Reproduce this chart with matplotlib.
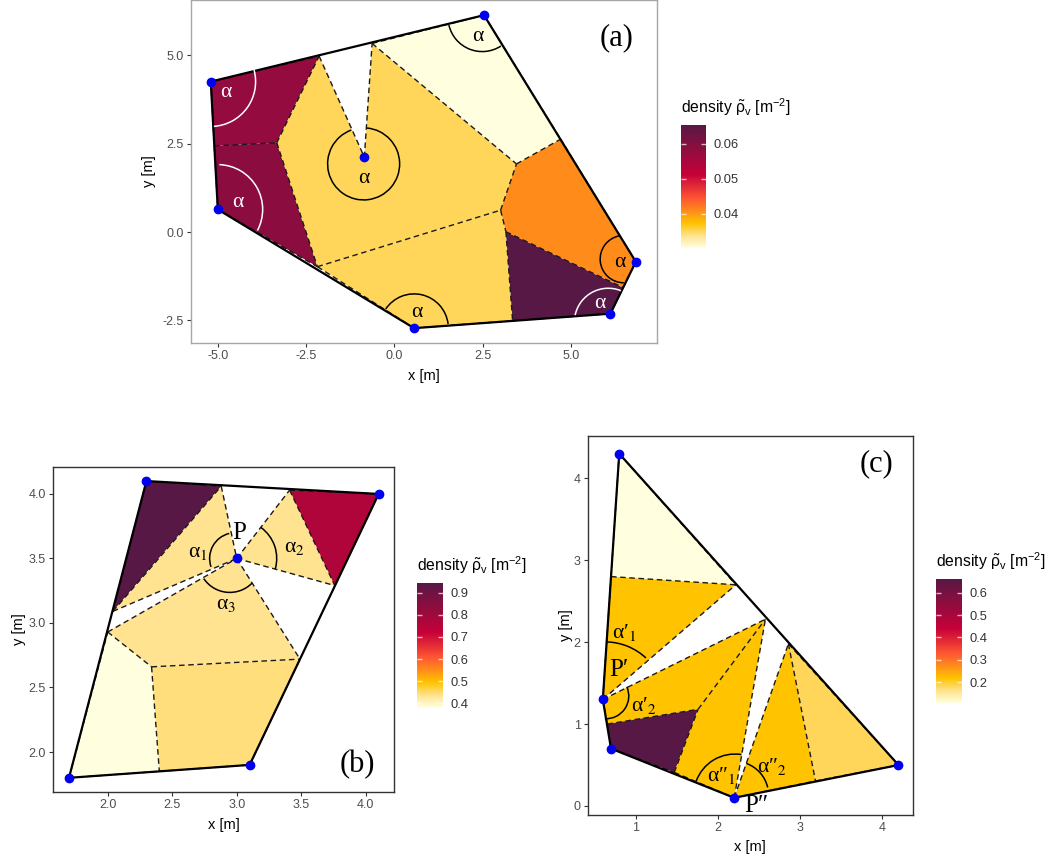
import matplotlib
matplotlib.use('Agg')
import matplotlib.pyplot as plt
from matplotlib.colors import LinearSegmentedColormap, Normalize
from matplotlib.cm import ScalarMappable
from matplotlib.patches import Polygon, Arc

plt.rcParams['font.family'] = ['Liberation Sans', 'DejaVu Sans']
plt.rcParams['axes.unicode_minus'] = False
plt.rcParams['mathtext.fontset'] = 'custom'
plt.rcParams['mathtext.rm'] = 'Liberation Sans'
plt.rcParams['mathtext.it'] = 'Liberation Sans'
plt.rcParams['mathtext.bf'] = 'Liberation Sans'

W, H = 1050, 860
cmap = LinearSegmentedColormap.from_list(
    'density', [(0, '#FFFFE0'), (0.1, '#FFE28E'), (0.2, '#FFC300'), (0.4, '#FF5733'),
                (0.6, '#C70039'), (0.8, '#900C3F'), (1, '#581845')])

# panel a
a_hull = [(-5.2, 4.26), (-5.0, 0.64), (0.56, -2.72), (6.12, -2.31), (6.84, -0.84), (2.54, 6.14)]
a_points = a_hull + [(-0.85, 2.12)]
a_cells = [
    [(-5.2, 4.26), (-2.13, 4.98), (-3.33, 2.53), (-5.1, 2.44)],
    [(-5.1, 2.44), (-3.33, 2.53), (-2.18, -0.98), (-5.0, 0.64)],
    [(-2.13, 4.98), (-0.85, 2.12), (-0.63, 5.34), (3.46, 1.93), (3.01, 0.62), (-2.18, -0.98), (-3.33, 2.53)],
    [(-2.18, -0.98), (3.01, 0.62), (3.16, 0.01), (3.35, -2.51), (0.56, -2.72)],
    [(3.16, 0.01), (6.48, -1.57), (6.12, -2.31), (3.35, -2.51)],
    [(3.46, 1.93), (4.71, 2.63), (6.84, -0.84), (6.48, -1.57), (3.16, 0.01), (3.01, 0.62)],
    [(-0.63, 5.34), (2.54, 6.14), (4.71, 2.63), (3.46, 1.93)],
]
a_density = [0.0578, 0.0590, 0.0352, 0.0352, 0.0653, 0.0409, 0.0303]
a_arcs = [
    (-5.2, 4.26, 1.27, -86, 15, 'white'),
    (-5.0, 0.64, 1.27, -28, 88, 'white'),
    (-0.87, 1.93, 1.02, 110, 445, 'black'),
    (0.56, -2.72, 0.97, 7, 146, 'black'),
    (6.06, -2.55, 0.96, 68, 168, 'white'),
    (6.5, -0.765, 0.67, 101, 270, 'black'),
    (2.49, 6.08, 0.97, 193, 303, 'black'),
]
a_labels = [
    (-4.77, 3.94, 'α', 'white'),
    (-4.43, 0.85, 'α', 'white'),
    (-0.86, 1.53, 'α', 'black'),
    (0.64, -2.27, 'α', 'black'),
    (2.37, 5.55, 'α', 'black'),
    (6.39, -0.85, 'α', 'black'),
    (5.82, -2.01, 'α', 'white'),
]
a_xticks = [-5.0, -2.5, 0.0, 2.5, 5.0]
a_yticks = [-2.5, 0.0, 2.5, 5.0]

# panel b
b_hull = [(1.7, 1.8), (3.1, 1.9), (4.1, 4.0), (2.3, 4.1)]
b_points = b_hull + [(3.0, 3.5)]
b_cells = [
    [(2.3, 4.1), (2.88, 4.06), (2.04, 3.09)],
    [(2.88, 4.06), (3.0, 3.5), (2.04, 3.09)],
    [(3.41, 4.03), (3.76, 3.29), (3.0, 3.5)],
    [(3.41, 4.03), (4.1, 4.0), (3.76, 3.29)],
    [(3.0, 3.5), (3.49, 2.72), (2.34, 2.66), (2.0, 2.93)],
    [(2.34, 2.66), (3.49, 2.72), (3.1, 1.9), (2.4, 1.85)],
    [(2.0, 2.93), (2.34, 2.66), (2.4, 1.85), (1.7, 1.8)],
]
b_density = [0.945, 0.437, 0.437, 0.766, 0.437, 0.445, 0.38]
b_arcs = [
    (2.99, 3.5, 0.2, 104, 199, 'black'),
    (3.013, 3.5, 0.297, -16, 54, 'black'),
    (2.946, 3.48, 0.243, 214, 315, 'black'),
]
b_labels = [
    (2.695, 3.545, 'α$_{1}$', 'black'),
    (3.45, 3.586, 'α$_{2}$', 'black'),
    (2.915, 3.14, 'α$_{3}$', 'black'),
    (3.02, 3.70, 'P', 'black'),
]
b_xticks = [2.0, 2.5, 3.0, 3.5, 4.0]
b_yticks = [2.0, 2.5, 3.0, 3.5, 4.0]

# panel c
c_hull = [(0.8, 4.3), (0.6, 1.3), (0.7, 0.7), (2.2, 0.1), (4.2, 0.5)]
c_points = c_hull
c_cells = [
    [(0.8, 4.3), (2.22, 2.70), (0.70, 2.80)],
    [(0.70, 2.80), (2.22, 2.70), (0.6, 1.3)],
    [(0.6, 1.3), (2.58, 2.28), (1.76, 1.18), (0.655, 1.0)],
    [(0.655, 1.0), (1.76, 1.18), (1.47, 0.41), (0.7, 0.7)],
    [(1.47, 0.41), (1.76, 1.18), (2.58, 2.28), (2.2, 0.1)],
    [(2.2, 0.1), (2.86, 1.98), (3.19, 0.305)],
    [(2.86, 1.98), (4.2, 0.5), (3.19, 0.305)],
]
c_density = [0.106, 0.217, 0.217, 0.661, 0.217, 0.217, 0.184]
c_arcs = [
    (0.627, 1.273, 0.73, 47, 88, 'black'),
    (0.639, 1.342, 0.277, -93, 24, 'black'),
    (2.208, 0.134, 0.5, 81, 161, 'black'),
    (2.208, 0.134, 0.41, 13, 70, 'black'),
]
c_labels = [
    (0.862, 2.115, 'α′$_{1}$', 'black'),
    (1.093, 1.225, 'α′$_{2}$', 'black'),
    (0.793, 1.66, 'P′', 'black'),
    (2.046, 0.378, 'α″$_{1}$', 'black'),
    (2.654, 0.48, 'α″$_{2}$', 'black'),
    (2.47, 0.0, 'P″', 'black'),
]
c_xticks = [1, 2, 3, 4]
c_yticks = [0, 1, 2, 3, 4]

fig = plt.figure(figsize=(W / 100, H / 100), dpi=100)


def box(x0, y0, x1, y1):
    return [x0 / W, 1 - y1 / H, (x1 - x0) / W, (y1 - y0) / H]


def panel(rect, xlim, ylim, xticks, yticks, fmt, hull, cells, density, dmin, dmax,
          points, arcs, labels, tag, tag_xy, edge, xpad, ypad):
    ax = fig.add_axes(box(*rect))
    norm = Normalize(dmin, dmax)
    edges = set()
    for cell, d in zip(cells, density):
        ax.add_patch(Polygon(cell, closed=True, facecolor=cmap(norm(d)), edgecolor='none', zorder=2))
        for p, q in zip(cell, cell[1:] + cell[:1]):
            edges.add(tuple(sorted((p, q))))
    # each shared edge only once, otherwise the dashes fill each other in
    for p, q in sorted(edges):
        ax.plot([p[0], q[0]], [p[1], q[1]], color='#1A1A1A', linewidth=1.0,
                linestyle=(0, (4, 2.6)), zorder=2.5)
    ax.add_patch(Polygon(hull, closed=True, fill=False, edgecolor='black', linewidth=1.6, zorder=3))
    for x, y, r, t1, t2, col in arcs:
        ax.add_patch(Arc((x, y), 2 * r, 2 * r, theta1=t1, theta2=t2, color=col, linewidth=1.1, zorder=4))
    for x, y, s, col in labels:
        size = 18 if s.startswith('P') else 15.5
        ax.text(x, y, s, color=col, fontsize=size, ha='center', va='center',
                family='Liberation Serif', math_fontfamily='stix', zorder=5)
    ax.scatter([p[0] for p in points], [p[1] for p in points], s=36, color='#0000F0', zorder=6, clip_on=False)
    ax.text(tag_xy[0], tag_xy[1], tag, fontsize=22, family='Liberation Serif', ha='center', va='center')
    ax.set_xlim(xlim)
    ax.set_ylim(ylim)
    ax.set_xticks(xticks)
    ax.set_yticks(yticks)
    ax.set_xticklabels([fmt % t for t in xticks])
    ax.set_yticklabels([fmt % t for t in yticks])
    ax.tick_params(labelsize=9, labelcolor='#4D4D4D', color='#333333', length=3, width=0.8, pad=2)
    ax.set_xlabel('x [m]', fontsize=10.5, labelpad=xpad)
    ax.set_ylabel('y [m]', fontsize=10.5, labelpad=ypad)
    for s in ax.spines.values():
        s.set_edgecolor(edge)
        s.set_linewidth(1.0)
    return ax


def legend(rect, dmin, dmax, ticks, title_xy):
    cax = fig.add_axes(box(*rect))
    cb = fig.colorbar(ScalarMappable(Normalize(dmin, dmax), cmap), cax=cax)
    cb.outline.set_visible(False)
    cb.set_ticks(ticks)
    cb.ax.tick_params(length=0, labelsize=9.3, labelcolor='#333333', pad=5.5)
    cb.ax.hlines(ticks, 0, 0.2, color='white', alpha=0.7, linewidth=1, transform=cb.ax.get_yaxis_transform())
    cb.ax.hlines(ticks, 0.8, 1, color='white', alpha=0.7, linewidth=1, transform=cb.ax.get_yaxis_transform())
    fig.text(title_xy[0] / W, 1 - title_xy[1] / H, r'density $\tilde{\rho}_v$ [m$^{-2}$]',
             fontsize=11.3, ha='left', va='center')


panel((191, 0, 657, 343), (-5.76, 7.44), (-3.14, 6.57), a_xticks, a_yticks, '%.1f',
      a_hull, a_cells, a_density, 0.0303, 0.0653, a_points, a_arcs, a_labels,
      '(a)', (6.3, 5.5), '#A6A6A6', 5, 5)
panel((53, 467, 394, 792), (1.576, 4.219), (1.69, 4.209), b_xticks, b_yticks, '%.1f',
      b_hull, b_cells, b_density, 0.38, 0.945, b_points, b_arcs, b_labels,
      '(b)', (3.935, 1.90), '#333333', 5, 2)
panel((587.7, 436, 913, 815), (0.416, 4.377), (-0.11, 4.516), c_xticks, c_yticks, '%d',
      c_hull, c_cells, c_density, 0.106, 0.661, c_points, c_arcs, c_labels,
      '(c)', (3.93, 4.18), '#333333', 4, 0.5)

legend((681, 125.3, 706, 248), 0.0303, 0.0653, [0.04, 0.05, 0.06], (681, 107))
legend((417, 582.7, 443, 707.7), 0.38, 0.945, [0.4, 0.5, 0.6, 0.7, 0.8, 0.9], (417, 565))
legend((936, 579, 962, 703.3), 0.106, 0.661, [0.2, 0.3, 0.4, 0.5, 0.6], (936, 561))

fig.savefig('out.png', dpi=100)
